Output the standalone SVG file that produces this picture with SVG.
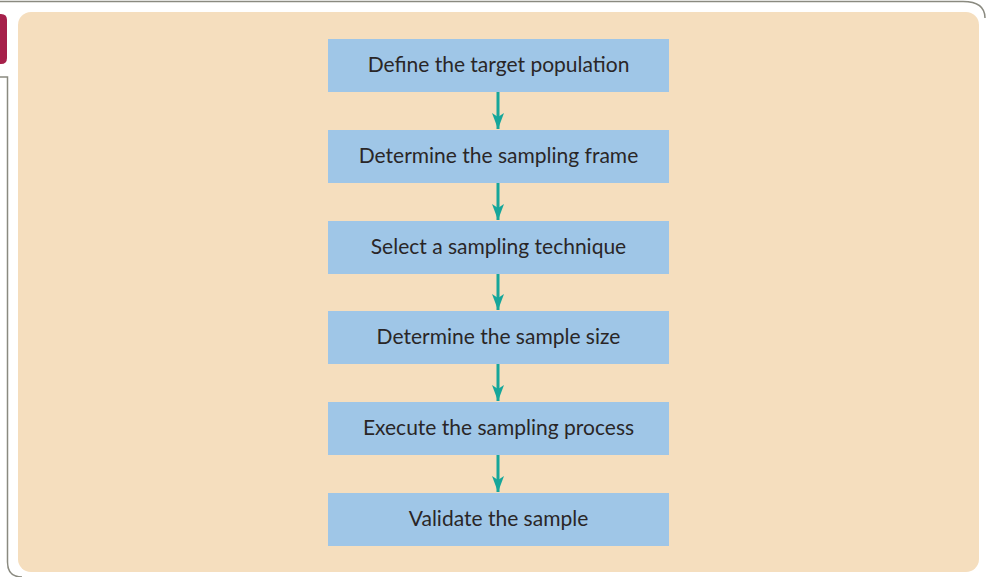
<svg xmlns="http://www.w3.org/2000/svg" width="986" height="577" viewBox="0 0 986 577">
<defs>
<style>
.box{fill:#9FC6E7;}
.lbl{font-family:Lato,"Open Sans",sans-serif;font-size:21px;fill:#2A2627;text-anchor:middle;}
.conn{stroke:#16A69A;stroke-width:3;fill:none;}
.frame{stroke:#8A8A80;stroke-width:1.5;fill:none;}
</style>
<marker id="ah" markerWidth="16" markerHeight="12" refX="16" refY="6" orient="auto" markerUnits="userSpaceOnUse" viewBox="0 0 16 12">
<path d="M0,0 L16,6 L0,12 L4,6 Z" fill="#16A69A"/>
</marker>
</defs>
<rect width="986" height="577" fill="#FFFFFF"/>
<path class="frame" d="M0,1.5 H963 Q985,1.5 985,18"/>
<path class="frame" d="M0,77 H7.5 V562 Q7.5,577 22,577"/>
<path d="M0,14 H1 Q7,14 7,20 V58 Q7,64 1,64 H0 Z" fill="#A6204A"/>
<rect x="18" y="12" width="961" height="560" rx="13" ry="13" fill="#F5DEBE"/>
<g id="connectors">
<line class="conn" x1="498" y1="92" x2="498" y2="129" marker-end="url(#ah)"/>
<line class="conn" x1="498" y1="183" x2="498" y2="220" marker-end="url(#ah)"/>
<line class="conn" x1="498" y1="274" x2="498" y2="310" marker-end="url(#ah)"/>
<line class="conn" x1="498" y1="364" x2="498" y2="401" marker-end="url(#ah)"/>
<line class="conn" x1="498" y1="455" x2="498" y2="492" marker-end="url(#ah)"/>
</g>
<g id="n1"><rect class="box" x="328" y="39" width="341" height="53"/><text class="lbl" x="498.5" y="72">Define the target population</text></g>
<g id="n2"><rect class="box" x="328" y="130" width="341" height="53"/><text class="lbl" x="498.5" y="163">Determine the sampling frame</text></g>
<g id="n3"><rect class="box" x="328" y="221" width="341" height="53"/><text class="lbl" x="498.5" y="254">Select a sampling technique</text></g>
<g id="n4"><rect class="box" x="328" y="311" width="341" height="53"/><text class="lbl" x="498.5" y="344">Determine the sample size</text></g>
<g id="n5"><rect class="box" x="328" y="402" width="341" height="53"/><text class="lbl" x="498.5" y="435">Execute the sampling process</text></g>
<g id="n6"><rect class="box" x="328" y="493" width="341" height="53"/><text class="lbl" x="498.5" y="526">Validate the sample</text></g>
</svg>
